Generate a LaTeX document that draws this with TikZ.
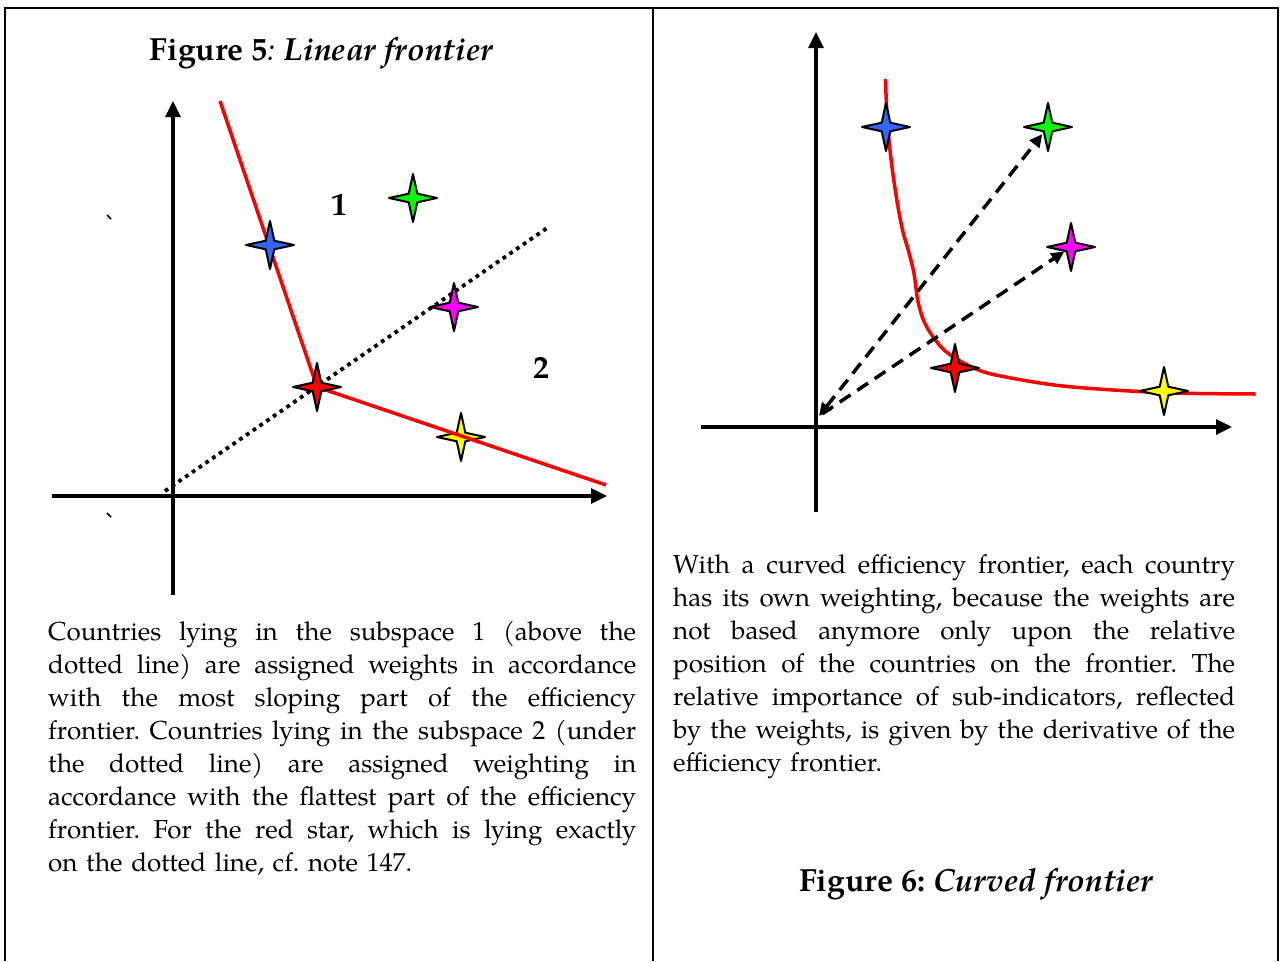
\documentclass[tikz,border=0pt]{standalone}
\usepackage{fontspec}
\setmainfont{texgyrepagella}[Extension=.otf,UprightFont=*-regular,BoldFont=*-bold,ItalicFont=*-italic,BoldItalicFont=*-bolditalic]
\usetikzlibrary{arrows.meta}
\frenchspacing
\definecolor{sblue}{RGB}{51,102,255}
\definecolor{sgreen}{RGB}{0,255,0}
\definecolor{smag}{RGB}{255,0,255}
\definecolor{sred}{RGB}{255,0,0}
\definecolor{syellow}{RGB}{255,255,0}
\newcommand{\jline}[2]{\noindent\hbox to #1{\spaceskip=0.25em plus 1fil minus 0.09em\relax #2}\par}
\newcommand{\nline}[1]{\noindent\hbox{#1}\par}
\tikzset{
  frame/.style={line width=2pt, black},
  axis/.style={line width=3.3pt, -{Triangle[length=16pt,width=15pt]}},
  front/.style={line width=3.5pt, sred},
  dotline/.style={line width=3.8pt, dash pattern=on 3.8pt off 4.4pt},
  dashline/.style={line width=3.5pt, dash pattern=on 13pt off 8pt},
  para/.style={inner sep=0pt, anchor=base west, align=left, font=\fontsize{26}{33.1}\selectfont},
  ttl/.style={inner sep=0pt, anchor=base, font=\fontsize{32}{36}\selectfont},
  lab/.style={inner sep=0pt, font=\fontsize{32}{36}\selectfont\bfseries},
  tick/.style={line width=1.5pt},
  pics/fstar/.style={code={
    \path[draw=black, line width=2pt, line join=round, fill=#1]
      (0,24) -- (4.3,4.3) -- (24,0) -- (4.3,-4.3) -- (0,-24)
      -- (-4.3,-4.3) -- (-24,0) -- (-4.3,4.3) -- cycle;
  }}
}
\begin{document}
\begin{tikzpicture}[x=1pt,y=-1pt]
\useasboundingbox (0,0) rectangle (1282,961);
\fill[white] (0,0) rectangle (1282,961);
% frames
\draw[frame] (5,961) -- (5,8) -- (1278,8) -- (1278,961);
\draw[frame] (653,8) -- (653,961);

% ---------------- left panel ----------------
\node[ttl] (t5) at (321.5,60) {\textbf{Figure 5}\textit{: \textbf{Linear frontier}}};

\coordinate (yb5) at (173,595);
\coordinate (yt5) at (173,101);
\coordinate (xl5) at (52,496);
\coordinate (xr5) at (607,496);
\draw[axis] (yb5) -- (yt5);
\draw[axis] (xl5) -- (xr5);

\coordinate (ft5) at (220,101);
\coordinate (fe5) at (606,485);
\coordinate (ds5) at (165,491);
\coordinate (de5) at (550,226);

\coordinate (blue5) at (270,245);
\coordinate (green5) at (413,198);
\coordinate (mag5) at (454,307);
\coordinate (red5) at (317,387);
\coordinate (yel5) at (461,437);

\pic at (yel5) {fstar=syellow};
\draw[front] (ft5) -- (red5) -- (fe5);
\draw[dotline] (ds5) -- (de5);
\pic at (blue5) {fstar=sblue};
\pic at (green5) {fstar=sgreen};
\pic at (mag5) {fstar=smag};
\pic at (red5) {fstar=sred};

\node[lab] (one) at (339,205) {1};
\node[lab] (two) at (541,368) {2};

\coordinate (ka) at (107,215);
\coordinate (kb) at (111,219);
\coordinate (kc) at (107,513);
\coordinate (kd) at (111,517);
\draw[tick] (ka) -- (kb);
\draw[tick] (kc) -- (kd);

\node[para, text width=588pt] (p5) at (48,640) {%
\jline{588pt}{Countries lying in the subspace 1 (above the}
\jline{588pt}{dotted line) are assigned weights in accordance}
\jline{588pt}{with the most sloping part of the efficiency}
\jline{588pt}{frontier. Countries lying in the subspace 2 (under}
\jline{588pt}{the dotted line) are assigned weighting in}
\jline{588pt}{accordance with the flattest part of the efficiency}
\jline{588pt}{frontier. For the red star, which is lying exactly}
\nline{on the dotted line, cf. note 147.}};

% ---------------- right panel ----------------
\coordinate (yb6) at (816,512);
\coordinate (yt6) at (816,32);
\coordinate (xl6) at (701,427);
\coordinate (xr6) at (1232,427);
\draw[axis] (yb6) -- (yt6);
\draw[axis] (xl6) -- (xr6);

\coordinate (o6) at (819,416);
\coordinate (blue6) at (886,127);
\coordinate (green6) at (1048,127);
\coordinate (mag6) at (1071,247);
\coordinate (red6) at (955,368);
\coordinate (yel6) at (1164,391);

\draw[front] plot[smooth, tension=0.55] coordinates {
  (885.4,79) (887.3,120) (891.1,160) (896.8,200) (902.5,230) (908.2,250)
  (913.9,273) (917.7,300) (923.4,320) (932.9,336.7) (948.1,353.3)
  (978.4,370) (1012.6,378.3) (1069.5,386.7) (1164.4,392.7) (1255.5,394)};

\draw[dashline, {Triangle[length=13pt,width=12pt]}-{Triangle[length=13pt,width=12pt]}, shorten >=9pt] (o6) -- (green6);
\draw[dashline, -{Triangle[length=13pt,width=12pt]}, shorten >=8pt, shorten <=4pt] (o6) -- (mag6);

\pic at (blue6) {fstar=sblue};
\pic at (green6) {fstar=sgreen};
\pic at (mag6) {fstar=smag};
\pic at (red6) {fstar=sred};
\pic at (yel6) {fstar=syellow};

\node[para, text width=562pt] (p6) at (673,573.3) {%
\jline{562pt}{With a curved efficiency frontier, each country}
\jline{562pt}{has its own weighting, because the weights are}
\jline{562pt}{not based anymore only upon the relative}
\jline{562pt}{position of the countries on the frontier. The}
\jline{562pt}{relative importance of sub-indicators, reflected}
\jline{562pt}{by the weights, is given by the derivative of the}
\nline{efficiency frontier.}};

\node[ttl] (t6) at (976.5,891.7) {\textbf{Figure 6: \textit{Curved frontier}}};
\end{tikzpicture}
\end{document}
